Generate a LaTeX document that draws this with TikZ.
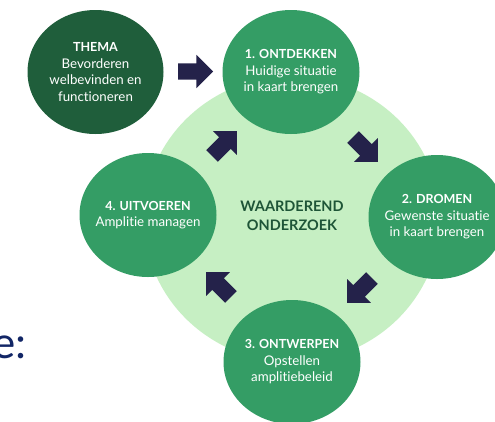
\documentclass[tikz,border=0pt]{standalone}
\usepackage{fontspec}
\setmainfont{Lato}[Ligatures={NoCommon}]
\usepackage{tikz}
\usetikzlibrary{positioning}
\usetikzlibrary{shapes.geometric, shapes.arrows}
\definecolor{donkergroen}{RGB}{31,94,59}
\definecolor{stapgroen}{RGB}{52,157,101}
\definecolor{lichtgroen}{RGB}{198,239,195}
\definecolor{tekstgroen}{RGB}{30,85,55}
\definecolor{pijlblauw}{RGB}{36,34,74}
\definecolor{kopblauw}{RGB}{18,38,102}
\newcommand{\staptitel}[1]{{\bfseries\fontsize{12.5}{16.5}\selectfont #1}}
\tikzstyle{achtergrond} = [ellipse, minimum width=296pt, minimum height=286pt, inner sep=0pt, fill=lichtgroen]
\tikzstyle{thema} = [ellipse, minimum width=136pt, minimum height=124pt, inner sep=0pt, fill=donkergroen]
\tikzstyle{stap} = [ellipse, minimum width=137pt, minimum height=124pt, inner sep=0pt, fill=stapgroen]
\tikzstyle{staptekst} = [text=white, align=center, inner sep=0pt, font=\fontsize{13.3}{16.5}\selectfont]
\tikzstyle{midden} = [text=tekstgroen, align=center, inner sep=0pt, font=\bfseries\fontsize{14.5}{19}\selectfont]
\tikzstyle{pijl} = [single arrow, fill=pijlblauw, minimum height=35pt, minimum width=0pt, inner sep=8pt, single arrow head extend=8.5pt]

\begin{document}
\begin{tikzpicture}[x=1pt, y=-1pt]
	\useasboundingbox (0,0) rectangle (495,421);
	\clip (0,0) rectangle (495,421);

	\node (kop) [anchor=base west, inner sep=0pt, text=kopblauw, font=\fontsize{44}{44}\selectfont] at (-8,358) {e:};

	\node (onderzoek) at (292,219) [achtergrond] {};

	\node (thema) at (95.5,72) [thema] {};
	\node (thematekst) at (thema) [staptekst] {\staptitel{THEMA}\\Bevorderen\\welbevinden en\\functioneren};

	\node (ontdekken) at (291,72) [stap] {};
	\node (ontdekkentekst) at (ontdekken) [staptekst] {\staptitel{1. ONTDEKKEN}\\Huidige situatie\\in kaart brengen};

	\node (dromen) at (437,217) [stap] {};
	\node (dromentekst) at (dromen) [staptekst] {\staptitel{2. DROMEN}\\Gewenste situatie\\in kaart brengen};

	\node (ontwerpen) at (292,362) [stap] {};
	\node (ontwerpentekst) at (ontwerpen) [staptekst] {\staptitel{3. ONTWERPEN}\\Opstellen\\amplitiebeleid};

	\node (uitvoeren) at (148,215) [stap] {};
	\node (uitvoerentekst) at (uitvoeren) [staptekst] {\staptitel{4. UITVOEREN}\\Amplitie managen};

	\node (middentekst) at (292,216) [midden] {WAARDEREND\\ONDERZOEK};

	% pijlen
	\node (pijlthema) at (191.5,71.5) [pijl] {};
	\node (pijl12) at (362.5,146.5) [pijl, rotate=-45] {};
	\node (pijl23) at (362.5,287.5) [pijl, rotate=-135] {};
	\node (pijl34) at (221.5,287.5) [pijl, rotate=135] {};
	\node (pijl41) at (221.5,146.5) [pijl, rotate=45] {};

\end{tikzpicture}
\end{document}
